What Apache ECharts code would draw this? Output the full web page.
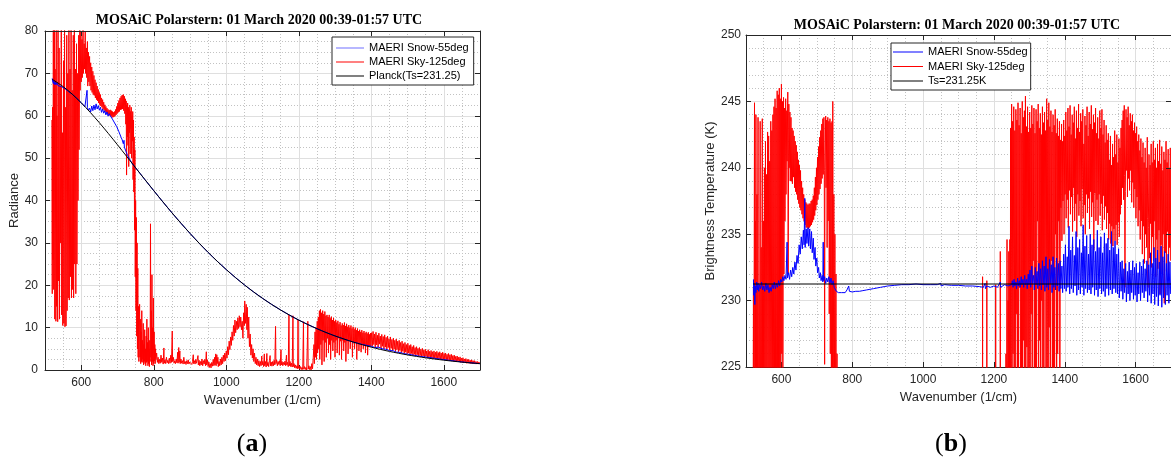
<!DOCTYPE html>
<html>
<head>
<meta charset="utf-8">
<script src="https://cdn.jsdelivr.net/npm/echarts@6/dist/echarts.min.js"></script>
<style>
html,body{margin:0;padding:0;background:#fff;}
#chart{width:1171px;height:459px;}
</style>
</head>
<body>
<div id="chart"></div>
<script>
// ---------- DATA ----------
const chartTitle = 'MOSAiC Polarstern: 01 March 2020 00:39-01:57 UTC';
const panelLabels = ['a', 'b'];
const seriesNames = ['MAERI Snow-55deg', 'MAERI Sky-125deg', 'Planck(Ts=231.25)', 'Ts=231.25K'];
const xAxisName = 'Wavenumber (1/cm)';
const yNameLeft = 'Radiance';
const yNameRight = 'Brightness Temperature (K)';

// Panel (a): radiance
const planckRadiance = [[520,68.60],[550,66.88],[575,65.10],[600,63.05],[625,60.78],[650,58.35],[675,55.79],[700,53.14],[725,50.44],[750,47.72],[775,45.00],[800,42.32],[825,39.69],[850,37.12],[875,34.64],[900,32.24],[925,29.94],[950,27.75],[975,25.67],[1000,23.70],[1025,21.84],[1050,20.09],[1075,18.45],[1100,16.92],[1125,15.49],[1150,14.16],[1175,12.93],[1200,11.78],[1225,10.73],[1250,9.76],[1275,8.86],[1300,8.04],[1350,6.60],[1400,5.39],[1450,4.39],[1500,3.56],[1550,2.88],[1600,2.32],[1650,1.86],[1700,1.49]];

const snowRadiance = [[520,68.8],[521,68.2],[522,68.6],[523,67.6],[524,68.3],[526,67.4],[528,68.0],[530,67.3],[533,67.8],[536,67.1],[540,67.2],[545,66.9],[550,66.8],[555,66.4],[560,66.2],[565,65.7],[570,65.5],[575,65.1],[580,64.7],[585,64.3],[590,63.9],[595,63.5],[600,63.1],[605,62.6],[610,62.1],[613,61.8],[615,62.4],[616,66.0],[617,61.9],[620,61.3],[623,61.8],[626,60.9],[629,62.3],[632,61.2],[635,62.5],[638,61.4],[641,62.8],[644,61.6],[647,62.4],[650,61.3],[653,62.0],[656,60.8],[659,61.6],[662,60.6],[665,61.2],[668,60.2],[671,60.9],[674,59.9],[677,60.5],[680,60.0],[683,60.3],[686,59.2],[689,59.5],[692,58.3],[695,58.6],[698,57.4],[701,57.3],[704,56.2],[707,55.8],[710,54.9],[713,54.3],[716,53.4],[718,54.2],[719,52.6],[722,51.9],[725,51.2],[728,50.6],[732,50.0],[736,49.4],[740,48.8],[745,48.2],[750,47.7],[775,45.0],[800,42.32],[825,39.69],[850,37.12],[875,34.64],[900,32.24],[925,29.94],[950,27.75],[975,25.67],[1000,23.70],[1025,21.84],[1050,20.09],[1075,18.45],[1100,16.92],[1125,15.49],[1150,14.16],[1175,12.93],[1200,11.78],[1225,10.73],[1250,9.76],[1275,8.86],[1300,8.04],[1325,7.3],[1350,6.6],[1375,6.05],[1400,5.6],[1410,5.3],[1420,5.4],[1430,5.0],[1440,4.9],[1450,4.6],[1460,4.55],[1470,4.2],[1480,4.15],[1490,3.85],[1500,3.75],[1520,3.45],[1540,3.15],[1560,2.95],[1580,2.7],[1600,2.45],[1650,1.9],[1700,1.5]];

const skyRadiance = [
[519,59],[520,18],[521,62],[522,26],[523,84],[524,19],[525,48],[526,86],[527,12],[528,71],[530,11.5],[531,85],[532,15],[533,60],[535,11.4],[536,88],[537,21],[539,76],[540,12],[542,67],[543,30],[545,86],[546,13],[548,56],[549,10.5],[551,73],[552,11],[554,84],[555,10.2],[557,62],[558,10.4],[560,79],[561,14],[563,70],[564,17],[566,86],[567,16.5],[569,71],[570,22],[572,86],[573,17],[575,66],[576,19],[578,79],[579,17],[581,83],[582,25],[584,71],[585,18],[587,77],[588,25],[590,70],[591,40],[593,79],[594,52],[596,81],
[597,66],[599,80],[600,68],[602,78],[603,69],[605,82],[606,70],[608,77],[609,71],[611,80],[612,70],[614,76],[615,69],[617,77.5],[618,67],[620,75],[621,68],[623,74],[624,67],[626,72.5],[627,66],[629,71.5],[630,65.5],[632,70.5],[633,65],[635,69.5],[636,64.8],[638,68.5],[639,64.2],[641,67.8],[642,63.8],[644,67],[645,63.5],[647,66.2],[648,63],[650,65.5],[651,62.6],[653,65],[654,62.3],[656,64.2],[657,62],[659,63.8],[660,61.6],[662,63.2],[663,61.3],[665,62.6],[666,61],[668,62.2],[669,60.8],[671,61.8],[672,60.5],[674,61.5],[675,60.3],[677,61.3],[678,60.1],[680,61.4],[681,60],[683,61.2],[684,59.8],[686,61],[687,59.6],[689,60.8],[690,59.7],[692,61],[693,59.9],[695,61.5],[696,60.2],[698,62.2],[699,60.5],[701,63],[702,60.8],[704,63.6],[705,61],[707,64.2],[708,61.4],[710,64.6],[711,61.5],[713,64.9],[714,61.6],[716,65],[717,61.2],[719,64.6],[720,60.5],[722,64],[723,58],[724,63.5],[725,46],[726,62.5],[727,55],[728,63],[729,53],[730,62],[731,48],[732,61.5],[733,56],[734,62.5],[735,51],[736,61],[737,57],[738,62],[739,50],[740,60],[741,54],[742,61],[743,45],[744,59],[745,42],[746,55],[747,33],[748,52],[749,22],[750,40],[751,14],[752,36],[753,8],[754,30],[755,5],[756,24],[757,3],[758,15],[759,2],
[760,10],[761,15.5],[762,3],[763,12],[764,1.5],[765,9],[766,2],[767,14],[768,1.8],[769,7],[770,2.5],[771,11],[772,1.2],[773,6],[774,2],[775,9.5],[776,1.5],[777,5],[778,1],[779,8],[780,1.8],[781,12],[782,2],[783,6.5],[784,1],[785,10],[786,1.5],[787,5],[788,0.8],[789,7],[790,2],[791,34.5],[792,3],[793,14],[794,1.2],[795,22.5],[796,2],[797,10],[798,1],[799,17],[800,1.5],[801,9],[802,2.2],[803,6],[804,1.5],[805,5],[806,2.5],[808,4],[810,1.8],[812,3],[814,1.5],[816,2.5],[818,1.6],[820,3.5],[822,1.8],[824,2.8],[826,1.4],[828,5.2],[829,1.6],[831,2.4],[833,1.5],[835,3],[837,1.7],[839,2.3],[841,1.5],[843,2.8],[845,1.6],[847,3.5],[849,1.8],[851,9.2],[852,2],[854,3],[856,1.6],
[858,2.2],[860,1.5],[862,2.6],[864,1.7],[866,4.2],[867,1.6],[869,5.3],[870,1.8],[872,4.5],[873,1.5],[875,2.6],[877,1.6],[879,2.2],[881,1.4],[883,3.0],[885,1.5],[887,2.0],[889,1.3],[891,2.2],[893,1.5],[895,2.4],[897,1.4],[899,1.9],[901,1.5],[903,2.3],[905,1.3],[907,2.0],[909,3.6],[910,1.5],[912,2.2],[914,1.4],[916,2.5],[918,1.6],[920,1.9],[922,3.4],[923,1.2],[925,2.3],[927,1.0],[929,2.0],[931,1.2],[933,2.6],[935,1.0],[937,2.2],[939,1.4],[941,2.5],[943,1.0],[945,4.3],[946,1.2],[948,2.4],[950,0.8],[952,1.9],[954,0.6],[956,1.5],[958,0.5],[960,1.8],[962,0.9],[964,2.5],[966,1.0],[968,3.0],[969,1.2],[971,3.8],[972,1.0],[974,3.6],[975,1.5],[977,3.0],[978,0.8],[980,2.0],[982,1.0],[984,2.6],[986,1.2],[988,3.0],[990,1.5],[992,3.5],[994,2.0],[996,4.0],[998,2.2],[1000,4.5],[1002,2.8],[1004,5.5],[1006,3.6],[1008,6.8],[1010,4.8],[1012,7.8],[1014,5.8],[1016,9.0],[1018,7.0],[1020,10.5],[1022,8.0],[1024,11.8],[1026,8.8],[1028,11.5],[1030,9.5],[1032,12.3],[1034,9.8],[1036,12.8],[1038,10.2],[1040,12.5],[1042,9.5],[1044,11.5],[1046,7.5],[1048,13.5],[1050,10.5],[1051,16.3],[1053,11.0],[1055,15.5],[1057,9.5],[1058,14.8],[1060,7.5],[1062,12.5],[1064,5.5],[1066,8.5],[1068,3.5],[1070,6.0],[1072,2.8],[1074,5.0],[1076,2.0],[1078,4.0],[1080,1.5],[1082,3.0],[1084,1.2],[1086,2.6],[1088,1.0],[1090,2.2],[1092,0.8],[1094,2.0],[1096,1.0],[1098,3.3],[1099,1.2],[1101,2.0],[1103,0.8],[1105,3.8],[1106,1.0],[1108,2.0],[1110,0.7],[1112,3.9],[1113,1.0],[1115,1.8],[1117,0.8],[1119,2.2],[1121,3.4],[1122,1.0],[1124,1.9],[1126,0.9],[1128,2.0],[1130,1.0],[1132,2.3],[1134,1.2],[1136,10.3],[1137,1.5],[1139,2.4],[1141,1.0],[1143,2.0],[1145,1.3],[1147,2.2],[1149,1.0],[1151,4.8],[1152,1.2],[1154,2.0],[1156,1.0],[1158,1.8],[1160,1.2],[1162,2.1],[1164,1.0],[1166,3.5],[1167,1.2],[1169,1.8],[1171,0.8],[1173,13.0],[1174,1.0],[1176,2.0],[1178,0.8],[1180,1.6],[1182,0.7],[1184,12.8],[1185,0.8],[1187,1.5],[1189,0.5],[1191,1.2],[1193,0.4],[1195,1.0],[1197,0.3],[1198,11.8],[1199,0.4],[1201,0.9],[1203,0.2],[1205,0.8],[1207,0.1],[1209,0.6],[1211,0.1],[1213,11.4],[1214,0.2],[1216,0.8],[1218,0.1],[1220,0.6],[1222,0.0],[1225,11.5],[1226,0.2],[1228,1.0],[1230,0.1],[1232,0.8],[1234,0.0],[1236,1.5],[1238,0.3],[1240,3.0],
[1242,6],[1243,1.5],[1245,9],[1246,3],[1248,10],[1249,2.5],[1251,11.5],[1252,4],[1254,12.5],[1255,5],[1257,14],[1258,2.5],[1260,14.3],[1261,6],[1263,13.5],[1264,1.2],[1266,14],[1267,7],[1269,13.2],[1270,2],[1272,13.8],[1273,6.5],[1275,12.8],[1276,3],[1278,13],[1279,7.5],[1281,12.5],[1282,4],[1284,13],[1285,6],[1287,12.2],[1288,2.5],[1290,12.6],[1291,7],[1293,11.8],[1294,4.5],[1296,12.3],[1297,6.5],[1299,11.5],[1300,3],[1302,11.8],[1303,7],[1305,11.2],[1306,4],[1308,11.6],[1309,7.5],[1311,10.8],[1312,3.5],[1314,11.3],[1315,6.8],[1317,10.5],[1318,2.5],[1320,11],[1321,7],[1323,10.6],[1324,4.5],[1326,11.2],[1327,6.5],[1329,10.4],[1330,2],[1332,10.9],[1333,6.8],[1335,10.2],[1336,3.8],[1338,10.6],[1339,7],[1341,10],[1342,5],[1344,10.5],[1345,6.8],[1347,9.8],[1348,3],[1350,10.2],[1351,6.6],[1353,9.6],[1354,5],[1356,10],[1357,6.5],[1359,9.4],[1360,2.5],[1362,9.8],[1363,6.3],[1365,9.2],[1366,4.5],[1368,9.5],[1369,6.2],[1371,9],[1372,4.2],[1374,9.4],[1375,6],[1377,8.8],[1378,5],[1380,9.2],[1381,5.9],[1383,8.7],[1384,4],[1386,9],[1387,5.8],[1389,8.6],[1390,3.5],[1392,8.9],[1393,5.7],[1395,8.4],[1396,5.6],[1398,8.7],[1399,5.6],
[1401,8.8],[1403,5.7],[1405,9.1],[1407,6.0],[1409,8.5],[1411,5.4],[1413,8.9],[1415,5.9],[1417,8.2],[1419,5.3],[1421,8.7],[1423,6.1],[1425,8.0],[1427,5.1],[1429,8.4],[1431,5.6],[1433,7.9],[1435,5.0],[1437,8.3],[1439,5.4],[1441,7.7],[1443,4.9],[1445,8.0],[1447,5.3],[1449,7.4],[1451,4.7],[1453,7.8],[1455,5.1],[1457,7.2],[1459,4.6],[1461,7.5],[1463,4.9],[1465,7.0],[1467,4.4],[1469,7.3],[1471,4.8],[1473,6.8],[1475,4.3],[1477,7.0],[1479,4.6],[1481,6.5],[1483,4.1],[1485,6.8],[1487,4.4],[1489,6.2],[1491,3.9],[1493,6.5],[1495,4.2],[1497,6.0],[1499,3.8],[1501,6.3],[1503,4.0],[1505,5.8],[1507,3.7],[1509,6.0],[1511,3.9],[1513,5.5],[1515,3.5],[1517,5.8],[1519,3.7],[1521,5.3],[1523,3.4],[1525,5.5],[1527,3.6],[1529,5.1],[1531,3.3],[1533,5.3],[1535,3.4],[1537,4.9],[1539,3.1],[1541,5.1],[1543,3.3],[1545,4.7],[1547,3.0],[1549,4.9],[1551,3.2],[1553,4.5],[1555,2.9],[1557,4.8],[1559,3.0],[1561,4.4],[1563,2.8],[1565,4.6],[1567,2.9],[1569,4.3],[1571,2.7],[1573,4.5],[1575,2.8],[1577,4.2],[1579,2.6],[1581,4.4],[1583,2.7],[1585,4.1],[1587,2.5],[1589,4.3],[1591,2.6],[1593,4.0],[1595,2.4],[1597,4.2],[1599,2.5],[1601,3.9],[1603,2.4],[1605,4.0],[1607,2.3],[1609,3.7],[1611,2.3],[1613,3.9],[1615,2.2],[1617,3.6],[1619,2.2],[1621,3.7],[1623,2.1],[1625,3.4],[1627,2.1],[1629,3.5],[1631,2.0],[1633,3.2],[1635,2.0],[1637,3.3],[1639,1.9],[1641,3.0],[1643,1.9],[1645,3.1],[1647,1.8],[1649,2.8],[1651,1.8],[1653,2.9],[1655,1.7],[1657,2.6],[1659,1.7],[1661,2.7],[1663,1.6],[1665,2.5],[1667,1.6],[1669,2.5],[1671,1.6],[1673,2.3],[1675,1.5],[1677,2.4],[1679,1.5],[1681,2.2],[1683,1.5],[1685,2.2],[1687,1.4],[1689,2.0],[1691,1.4],[1693,2.0],[1695,1.4],[1697,1.9],[1699,1.5]
];

// Panel (b): brightness temperature
const surfaceTemp = [[520,231.25],[1700,231.25]];

const snowBT = [[521,231.6],[522,230.4],[523,231.3],[525,229.7],[526,231.1],[528,230.6],[530,231.4],[532,230.8],[534,231.3],[536,230.7],[538,231.2],[541,230.9],[544,231.4],[547,230.8],[550,231.1],[553,230.7],[556,231.3],[559,230.8],[562,231.2],[565,230.6],[568,231.0],[571,230.7],[574,231.2],[577,230.9],[580,231.4],[583,230.9],[586,231.3],[589,231.0],[592,231.5],[595,231.1],[598,231.6],[601,231.4],[604,231.8],[607,231.5],[610,231.9],[613,231.6],[616,234.4],[617,231.7],[620,232.1],[623,231.6],[626,232.3],[629,231.8],[632,232.5],[635,232.0],[638,232.9],[641,232.3],[644,233.4],[647,232.8],[650,234.2],[653,233.5],[656,234.8],[659,233.9],[662,235.3],[664,234.2],[666,237.7],[667,234.0],[670,235.4],[672,234.3],[675,235.5],[677,234.1],[680,235.4],[682,233.9],[685,235.2],[687,233.6],[690,234.7],[692,233.1],[695,234.0],[697,232.6],[700,233.2],[702,232.1],[705,232.5],[707,231.7],[710,232.1],[712,231.5],[715,231.9],[717,231.4],[718,234.4],[719,231.5],[722,231.8],[725,231.3],[728,231.7],[731,231.4],[734,231.8],[737,231.3],[740,231.7],[743,231.2],[746,231.5],[749,231.0],[752,230.9],[755,230.7],[758,230.8],[761,230.6],[765,230.7],[770,230.6],[775,230.65],[780,230.6],[785,230.8],[790,231.1],[792,230.7],[800,230.65],[810,230.7],[820,230.7],[830,230.75],[840,230.8],[850,230.85],[860,230.9],[870,230.95],[880,231.0],[890,231.05],[900,231.1],[920,231.15],[940,231.2],[960,231.2],[980,231.25],[1000,231.2],[1020,231.2],[1040,231.2],[1050,231.3],[1051,231.1],[1060,231.2],[1080,231.15],[1100,231.15],[1120,231.1],[1140,231.1],[1160,231.05],[1170,231.0],[1175,231.3],[1176,230.9],[1180,231.1],[1190,231.0],[1200,231.1],[1210,231.0],[1218,231.4],[1219,231.0],[1230,231.2],[1240,231.1],[1250,231.2],
[1252,231.5],[1254,231.0],[1257,231.6],[1259,231.1],[1262,231.4],[1264,230.9],[1267,231.7],[1269,231.1],[1272,231.5],[1274,231.0],[1277,231.8],[1279,231.2],[1282,231.6],[1284,231.0],[1287,231.9],[1289,231.2],[1292,231.6],[1294,230.9],[1297,232.0],[1299,231.2],[1302,232.3],[1304,231.0],[1307,232.6],[1309,231.3],[1312,231.9],[1314,230.8],[1317,232.5],[1319,231.2],[1322,232.2],[1324,230.9],[1327,232.8],[1329,231.1],[1332,232.4],[1334,230.8],[1337,233.0],[1339,231.2],[1342,232.6],[1344,230.7],[1347,233.3],[1349,231.0],[1352,232.4],[1354,230.8],[1357,233.1],[1359,231.3],[1362,232.7],[1364,230.6],[1367,233.3],[1369,231.0],[1372,232.5],[1374,230.8],[1377,233.2],[1379,231.1],[1382,232.8],[1384,230.7],[1387,233.0],[1389,230.9],[1392,232.6],[1394,230.6],[1397,233.5],[1399,230.9],[1402,234.2],[1404,230.7],[1407,233.3],[1409,231.0],[1412,235.6],[1414,230.5],[1417,233.8],[1419,230.9],[1422,234.8],[1424,230.6],[1427,233.4],[1429,231.1],[1432,235.2],[1434,230.4],[1437,234.0],[1439,230.8],[1442,234.6],[1444,230.5],[1447,233.6],[1449,231.0],[1452,235.7],[1454,230.4],[1457,234.1],[1459,230.9],[1462,234.9],[1464,230.6],[1467,233.5],[1469,230.8],[1472,235.0],[1474,230.5],[1477,234.2],[1479,231.0],[1482,234.6],[1484,230.4],[1487,233.7],[1489,230.8],[1492,235.3],[1494,230.3],[1497,234.0],[1499,230.9],[1502,234.8],[1504,230.5],[1507,233.6],[1509,230.7],[1512,235.1],[1514,230.3],[1517,234.3],[1519,230.9],[1522,234.7],[1524,230.4],[1527,233.8],[1529,230.8],[1532,235.2],[1534,230.5],[1537,234.0],[1539,230.9],[1542,234.5],[1544,230.6],[1547,233.5],[1549,230.5],[1552,233.9],[1554,230.2],[1557,232.9],[1559,230.7],[1562,233.0],[1564,230.1],[1567,232.4],[1569,230.6],[1572,232.8],[1574,229.9],[1577,232.2],[1579,230.5],[1582,232.9],[1584,230.0],[1587,232.3],[1589,230.6],[1592,233.0],[1594,230.1],[1597,232.5],[1599,230.4],[1602,232.8],[1604,229.9],[1607,232.1],[1609,230.5],[1612,232.9],[1614,230.0],[1617,232.6],[1619,230.6],[1622,233.1],[1624,230.2],[1627,232.4],[1629,230.7],[1632,233.0],[1634,229.9],[1637,232.7],[1639,230.4],[1642,233.6],[1644,229.8],[1647,232.8],[1649,230.5],[1652,234.0],[1654,229.7],[1657,233.2],[1659,230.3],[1662,233.8],[1664,229.6],[1667,232.9],[1669,230.4],[1672,234.1],[1674,229.5],[1677,233.3],[1679,230.2],[1682,233.7],[1684,229.7],[1687,232.8],[1689,230.4],[1692,233.5],[1694,229.8],[1697,232.9],[1699,230.5]];

const skyBT = [
[520,220],[521,231],[522,218],[524,244.9],[525,219],[526,236],[527,218],[528,244],[529,219],[531,238],[532,218],[534,243.8],[535,219],[537,231],[538,218],[540,243.5],[541,219],[543,234],[544,218],[546,243.7],[547,219],[549,236],[550,218],[552,240],[553,219],[555,242],[556,218],[558,239.5],[559,219],[561,242.7],[562,218],[564,242.4],[565,219],[567,240.5],[568,218],[570,243.5],[571,220],[573,242.8],[574,218],[576,244],[577,221],[579,244.6],[580,219],[582,245.2],[583,223],[585,244.5],[586,219],[588,245.8],[589,222],[591,245.5],[592,220],[594,246],[595,224],[597,245.2],[598,221],[600,246.3],[601,226],[603,245],[604,222],[606,245.3],[607,232],[609,244.5],[610,236],[612,245.2],[613,238],[615,244.3],[616,240.5],[618,245.7],[619,232],[621,244.8],[622,240],[624,244.2],[625,239],
[627,243.8],[628,239],[630,243],[631,238.8],[633,242.8],[634,239.3],[636,242.4],[637,238.5],[639,242],[640,238.2],[642,241.7],[643,238],[645,241.2],[646,237.6],[648,240.6],[649,237.3],[651,240.2],[652,237],[654,239.8],[655,236.8],[657,239],[658,236.5],[660,238.5],[661,236.2],[663,238],[664,236],[666,237.6],[667,235.7],[669,237.4],[670,235.5],[672,237.3],[673,235.5],[675,237.2],[676,235.4],[678,237.3],[679,235.5],[681,237.3],[682,235.6],[684,237.5],[685,235.7],[687,237.6],[688,235.9],[690,237.9],[691,236.1],[693,238.5],[694,236.4],[696,239.3],[697,236.8],[699,240],[700,237.2],[702,240.8],[703,237.6],[705,241.6],[706,238],[708,242.3],[709,238.4],[711,242.8],[712,238.8],[714,243.3],[715,239.2],[717,243.7],[718,239.5],[720,243.8],[721,239.8],[722,225.2],[723,240],[725,243.9],[726,238.5],[728,243.6],[729,234],[731,243.8],[732,236],[734,243.5],[735,229],[737,243.7],[738,226],[740,243.4],[741,222],[743,243.5],[744,220],[745,245],[746,219],[748,238],[749,218],[751,235],[752,218],[754,232],[755,217],[757,226],[758,215],[760,212],
[780,205],[850,200],[950,198],[1050,200],[1100,203],[1165,208],
[1167,210],[1168,231.8],[1169,210],[1179,210],[1180,231.5],[1181,210],[1204,210],[1205,231.2],[1206,210],[1217,210],[1218,233.7],[1219,210],[1232,212],[1234,226],[1235,212],[1237,234.6],[1238,214],[1240,230],[1241,215],[1242,233.7],[1243,216],[1245,234.6],[1246,215],
[1247,243],[1248,217],[1250,244.8],[1251,218],[1253,243.5],[1254,226],[1256,244.6],[1257,217],[1259,242.8],[1260,219],[1262,244.4],[1263,229],[1265,243.6],[1266,217],[1268,244.9],[1269,220],[1271,243.2],[1272,231],[1274,244.5],[1275,218],[1277,242.6],[1278,224],[1280,245],[1281,217],[1283,243.8],[1284,227],[1286,244.3],[1287,218],[1289,245.4],[1290,221],[1292,243.1],[1293,226.5],[1295,244.6],[1296,218],[1298,242.7],[1299,222],[1301,244.2],[1302,217],[1304,243],[1305,229],[1307,244.7],[1308,218],[1310,243.3],[1311,233],[1313,244.5],[1314,217],[1316,242.6],[1317,224],[1319,244.4],[1320,218],[1322,243.5],[1323,236],[1325,244.8],[1326,217],[1328,243],[1329,227],[1331,244.1],[1332,218],[1334,242.5],[1335,230],[1337,244.6],[1338,217],[1340,243.4],[1341,220],[1343,244.2],[1344,232],[1346,242.8],[1347,218],[1349,245.2],[1350,224],[1352,243.6],[1353,217],[1355,244.9],[1356,228],[1358,243.1],[1359,218],[1361,244.3],[1362,233],[1364,242.7],[1365,217],[1367,244],[1368,221],[1370,243.2],[1371,218],[1373,244.4],[1374,235],[1376,242.6],[1377,218],[1379,243.7],[1380,226],[1382,242.4],[1383,236],[1385,243.5],[1386,219],[1388,242.1],[1389,237],[1391,243.3],[1392,234.5],[1394,242],[1395,237.5],[1397,243.6],[1398,235],[1400,242.4],[1401,238],[1403,244.2],[1404,236.2],[1406,242.8],[1407,237.6],[1409,244.5],[1410,235.5],[1412,243.1],[1413,238.3],[1415,244.7],[1416,236.5],[1418,242.5],[1419,237.8],[1421,244],[1422,235.2],[1424,243.4],[1425,238.5],[1427,244.6],[1428,236],[1430,242.2],[1431,237.3],[1433,244.3],[1434,234.8],[1436,243],[1437,238],[1439,244.8],[1440,236.4],[1442,242.7],[1443,237.5],[1445,244.1],[1446,235.6],[1448,243.5],[1449,238.4],[1451,244.4],[1452,236.2],[1454,241.8],[1455,237.2],[1457,243.9],[1458,235],[1460,243.2],[1461,238],[1463,244.6],[1464,236.6],[1466,242.4],[1467,237.7],[1469,244.2],[1470,235.4],[1472,243.3],[1473,238.2],[1475,244.7],[1476,236.3],[1478,242.9],[1479,237.4],[1481,244],[1482,233.8],[1484,243.4],[1485,238.1],[1487,244.5],[1488,236],[1490,242.6],[1491,237.6],[1493,243.8],[1494,235.7],[1496,242.2],[1497,238],[1499,244.3],[1500,236.4],[1502,243],[1503,237.3],[1505,244.4],[1506,235.3],[1508,242.5],[1509,237.9],[1511,243.6],[1512,236.1],[1514,241.9],[1515,237.1],[1517,243.2],[1518,235.4],[1520,242.1],[1521,236.6],[1523,242.6],[1524,234.6],[1526,240.6],[1527,235.8],[1529,242.4],[1530,234.3],[1532,240.2],[1533,235.6],[1535,241.8],[1536,234.1],[1538,240.8],[1539,235.4],[1541,242.8],[1542,234.5],[1544,241],[1545,235.7],[1547,242.5],[1548,234.2],[1550,240.4],[1551,235.9],[1553,242.2],[1554,234.8],[1556,241.5],[1557,236.5],[1559,243],[1560,237.2],[1562,243.6],[1563,238.5],[1565,244.3],[1566,237.6],[1568,244.7],[1569,239.4],[1570,231],[1571,238.2],[1573,244.4],[1574,239.8],[1576,243.8],[1577,237.8],[1579,244.6],[1580,239.2],[1582,243.2],[1583,238.3],[1585,244.1],[1586,239.8],[1588,243.5],[1589,237.4],[1591,244],[1592,238.9],[1594,242.8],[1595,237],[1597,243.4],[1598,238.4],[1600,242.6],[1601,236.2],[1603,243.1],[1604,237.8],[1606,242],[1607,235.6],[1609,242.5],[1610,236.8],[1612,241.3],[1613,234.6],[1615,242.2],[1616,236],[1618,240.8],[1619,233.5],[1621,241.9],[1622,235.6],[1624,240.4],[1625,232.8],[1627,241.5],[1628,235],[1630,240],[1631,234],[1633,242.3],[1634,236.2],[1635,231],[1636,235.5],[1638,241],[1639,233.2],[1641,240.2],[1642,235.8],[1644,241.8],[1645,232.5],[1647,240.4],[1648,234.8],[1650,242],[1651,233],[1653,240.6],[1654,236],[1656,241.5],[1657,231.8],[1659,240],[1660,234.6],[1662,241.8],[1663,232.4],[1665,240.5],[1666,235.3],[1668,242.1],[1669,230.5],[1671,240.3],[1672,234.2],[1674,241.6],[1675,232],[1677,239.8],[1678,235],[1680,241.2],[1681,229.8],[1683,240.6],[1684,233.6],[1686,242],[1687,232.2],[1689,240.4],[1690,235.2],[1692,241.4],[1693,231.5],[1695,240],[1696,234],[1698,241.5],[1699,233]
];

// ---------- CHART ----------
const FONT = '"Liberation Sans", Arial, Helvetica, sans-serif';
const AX = '#262626';
const MAJOR = '#dfdfdf';
const MINOR = '#c2c2c2';
const plainNumber = v => String(v);

function xAxes(gridIndex) {
  return [
    { gridIndex, type: 'value', min: 500, max: 1700, splitNumber: 6, position: 'bottom', z: 2,
      name: xAxisName, nameLocation: 'middle', nameGap: 23,
      nameTextStyle: { color: AX, fontSize: 13, fontFamily: FONT },
      axisLine: { show: true, onZero: false, lineStyle: { color: AX, width: 1 } },
      axisTick: { show: true, inside: true, length: 5, lineStyle: { color: AX } },
      axisLabel: { color: AX, fontSize: 12, fontFamily: FONT, margin: 7, showMinLabel: false, showMaxLabel: false, formatter: plainNumber },
      splitLine: { show: true, lineStyle: { color: MAJOR, width: 1 } } },
    { gridIndex, type: 'value', min: 500, max: 1700, interval: 50, position: 'bottom', z: 1,
      axisLine: { show: false, onZero: false }, axisTick: { show: false }, axisLabel: { show: false },
      splitLine: { show: true, lineStyle: { color: MINOR, width: 1, type: [1, 2] } } },
    { gridIndex, type: 'value', min: 500, max: 1700, splitNumber: 6, position: 'top', z: 3,
      axisLine: { show: true, onZero: false, lineStyle: { color: AX, width: 1 } },
      axisTick: { show: true, inside: true, length: 5, lineStyle: { color: AX } },
      axisLabel: { show: false }, splitLine: { show: false } }
  ];
}
function yAxes(gridIndex, min, max, interval, minorSplit, name, nameGap, labelMargin) {
  return [
    { gridIndex, type: 'value', min, max, interval, position: 'left', z: 2,
      name, nameLocation: 'middle', nameGap,
      nameTextStyle: { color: AX, fontSize: 13, fontFamily: FONT },
      axisLine: { show: true, onZero: false, lineStyle: { color: AX, width: 1 } },
      axisTick: { show: true, inside: true, length: 5, lineStyle: { color: AX } },
      axisLabel: { color: AX, fontSize: 12, fontFamily: FONT, margin: labelMargin, formatter: plainNumber },
      splitLine: { show: true, lineStyle: { color: MAJOR, width: 1 } },
      minorTick: { show: false, splitNumber: minorSplit },
      minorSplitLine: { show: true, lineStyle: { color: MINOR, width: 1, type: [1, 2] } } },
    { gridIndex, type: 'value', min, max, interval, position: 'right', z: 3,
      axisLine: { show: true, onZero: false, lineStyle: { color: AX, width: 1 } },
      axisTick: { show: true, inside: true, length: 5, lineStyle: { color: AX } },
      axisLabel: { show: false }, splitLine: { show: false } }
  ];
}

function lineSeries(name, data, color, xi, yi, z, extra) {
  return Object.assign({
    name, type: 'line', data, xAxisIndex: xi, yAxisIndex: yi, z,
    symbol: 'none', showSymbol: false, clip: true, animation: false,
    lineStyle: { color, width: 1 }, itemStyle: { color }
  }, extra || {});
}

function legendBox(left, top, itemWidth, padding, itemGap, names, firstColor) {
  return {
    orient: 'vertical', left, top, itemWidth, itemHeight: 1, itemGap, padding,
    icon: 'rect',
    borderColor: AX, borderWidth: 1, backgroundColor: '#ffffff', selectedMode: false,
    textStyle: { fontSize: 11, fontFamily: FONT, color: '#000', lineHeight: 12 },
    data: names.map((n, i) => i === 0 && firstColor ? { name: n, itemStyle: { color: firstColor } } : n)
  };
}

const option = {
  animation: false,
  backgroundColor: '#ffffff',
  textStyle: { fontFamily: FONT },
  grid: [
    { left: 45, top: 31, width: 435, height: 339, containLabel: false },
    { left: 746, top: 35, width: 427, height: 332, containLabel: false }
  ],
  xAxis: [...xAxes(0), ...xAxes(1)],
  yAxis: [
    ...yAxes(0, 0, 80, 10, 4, yNameLeft, 21, 7),
    ...yAxes(1, 225, 250, 5, 5, yNameRight, 28, 5)
  ],
  legend: [
    legendBox(332, 37, 28, [5, 5, 3, 4], 2, [seriesNames[0], seriesNames[1], seriesNames[2]], '#6f6fff'),
    legendBox(891, 43, 30, [3, 3, 3, 2], 2.5, [seriesNames[0], seriesNames[1], seriesNames[3]], null)
  ],
  series: [
    lineSeries(seriesNames[1], skyRadiance, '#ff0000', 0, 0, 2),
    lineSeries(seriesNames[0], snowRadiance, '#0000ff', 0, 0, 3),
    lineSeries(seriesNames[2], planckRadiance, '#000000', 0, 0, 4, { smooth: 0.3 }),
    lineSeries(seriesNames[1], skyBT, '#ff0000', 3, 2, 2),
    lineSeries(seriesNames[0], snowBT, '#0000ff', 3, 2, 3),
    lineSeries(seriesNames[3], surfaceTemp, '#000000', 3, 2, 4)
  ],
  graphic: [
    { type: 'text', x: 259, y: 20, z: 10, style: { text: chartTitle, font: 'bold 14px "Liberation Serif", "Times New Roman", serif', fill: '#000', align: 'center', verticalAlign: 'middle' } },
    { type: 'text', x: 957, y: 25, z: 10, style: { text: chartTitle, font: 'bold 14px "Liberation Serif", "Times New Roman", serif', fill: '#000', align: 'center', verticalAlign: 'middle' } },
    { type: 'text', x: 252, y: 444, z: 10, style: { text: '{p|(}{b|' + panelLabels[0] + '}{p|)}', align: 'center', verticalAlign: 'middle',
        rich: { p: { font: '26px "Liberation Serif", serif', fill: '#000' }, b: { font: 'bold 26px "Liberation Serif", serif', fill: '#000' } } } },
    { type: 'text', x: 951, y: 444, z: 10, style: { text: '{p|(}{b|' + panelLabels[1] + '}{p|)}', align: 'center', verticalAlign: 'middle',
        rich: { p: { font: '26px "Liberation Serif", serif', fill: '#000' }, b: { font: 'bold 26px "Liberation Serif", serif', fill: '#000' } } } }
  ]
};

const chart = echarts.init(document.getElementById('chart'), null, { renderer: 'canvas' });
chart.setOption(option);
</script>
</body>
</html>
